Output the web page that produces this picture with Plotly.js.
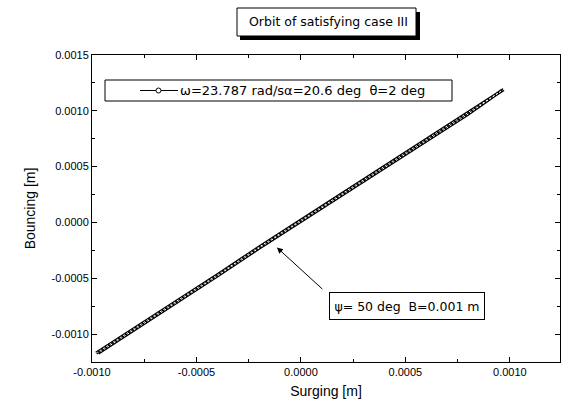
<!DOCTYPE html>
<html>
<head>
<meta charset="utf-8">
<script src="https://cdn.plot.ly/plotly-3.0.1.min.js"></script>
<style>html,body{margin:0;padding:0;background:#fff;}#chart{width:563px;height:411px;}</style>
</head>
<body>
<div id="chart"></div>
<script>
// Orbit points (surging x, bouncing y): outbound branch then return branch
const surging = [-0.00098,-0.00080,-0.00060,-0.00040,-0.00020,0.00000,0.00020,0.00040,0.00060,0.00080,0.00097,
                  0.00096,0.00080,0.00060,0.00040,0.00020,0.00000,-0.00020,-0.00040,-0.00060,-0.00080,-0.00097];
const bouncing = [-0.00117,-0.00095,-0.00071,-0.00047,-0.00022,0.00002,0.00026,0.00050,0.00074,0.00098,0.00119,
                   0.00118,0.00097,0.00073,0.00049,0.00025,0.00001,-0.00023,-0.00048,-0.00072,-0.00096,-0.00117];
const seriesName = "ω=23.787 rad/sα=20.6 deg  θ=2 deg";
const titleText = "Orbit of satisfying case III";
const noteText = "ψ= 50 deg  B=0.001 m";
const xTicks = [-0.0010,-0.0005,0.0000,0.0005,0.0010];
const yTicks = [-0.0010,-0.0005,0.0000,0.0005,0.0010,0.0015];

const W=563,H=411,L=92,R=3,T=55,B=49;
const pw=W-L-R, ph=H-T-B;
const px=p=>(p-L)/pw, py=p=>1-(p-T)/ph;
const fmt=v=>(v<0?"-":"")+Math.abs(v).toFixed(4);

const font="Liberation Sans, Arial, sans-serif";
const wide="DejaVu Sans, Liberation Sans, sans-serif";
const band={x:surging,y:bouncing,mode:"lines",name:seriesName,showlegend:false,
  line:{color:"#000",width:3.2}};
const holes={x:surging,y:bouncing,mode:"lines",showlegend:false,hoverinfo:"skip",
  line:{color:"#fff",width:1,dash:"2px,2px"}};

const axisCommon={showgrid:false,zeroline:false,showline:true,linecolor:"#000",linewidth:1,
  mirror:"allticks",ticks:"inside",ticklen:5,tickcolor:"#000",
  tickfont:{family:font,size:11,color:"#000"}};

const rect=(x0,x1,y0,y1,fill,lw)=>({type:"rect",xref:"paper",yref:"paper",x0:px(x0),x1:px(x1),y0:py(y1),y1:py(y0),
  fillcolor:fill,line:{color:"#000",width:lw},layer:"above"});

const layout={
  width:W,height:H,margin:{l:L,r:R,t:T,b:B},paper_bgcolor:"#fff",plot_bgcolor:"#fff",
  showlegend:false,
  xaxis:Object.assign({},axisCommon,{range:[-0.0010,0.00124],tickvals:xTicks,ticktext:xTicks.map(fmt),
    minor:{ticks:"inside",ticklen:3,tickcolor:"#000",dtick:0.00025,tick0:0},
    title:{text:"Surging [m]",font:{family:font,size:14,color:"#000"},standoff:8}}),
  yaxis:Object.assign({},axisCommon,{range:[-0.00125,0.0015],tickvals:yTicks,ticktext:yTicks.map(fmt),
    minor:{ticks:"inside",ticklen:3,tickcolor:"#000",dtick:0.00025,tick0:0},
    title:{text:"Bouncing [m]",font:{family:font,size:14,color:"#000"},standoff:12}}),
  shapes:[
    rect(240,420,12,40,"#000",0),
    rect(237,416,8,36,"#fff",1),
    rect(105,452,80,101,"#fff",1),
    {type:"line",xref:"paper",yref:"paper",x0:px(140),x1:px(178),y0:py(90.5),y1:py(90.5),line:{color:"#000",width:1},layer:"above"},
    {type:"circle",xref:"paper",yref:"paper",x0:px(156),x1:px(161),y0:py(88),y1:py(93),fillcolor:"#fff",line:{color:"#000",width:1},layer:"above"}
  ],
  annotations:[
    {xref:"paper",yref:"paper",x:px(328),y:py(22),text:titleText,showarrow:false,
      font:{family:wide,size:12.5,color:"#000"},xanchor:"center",yanchor:"middle"},
    {xref:"paper",yref:"paper",x:px(178),y:py(90.5),text:seriesName,showarrow:false,
      font:{family:wide,size:13,color:"#000"},xanchor:"left",yanchor:"middle"},
    {xref:"paper",yref:"paper",x:px(407),y:py(306),text:noteText,showarrow:false,
      font:{family:wide,size:12.5,color:"#000"},bgcolor:"#fff",bordercolor:"#000",borderwidth:1,
      width:152,height:24,xanchor:"center",yanchor:"middle"},
    {x:-0.000115,y:-0.000224,text:"",showarrow:true,ax:47,ay:43,arrowhead:2,arrowsize:1.2,arrowwidth:1,arrowcolor:"#000"}
  ]
};
Plotly.newPlot("chart",[band,holes],layout,{displayModeBar:false,staticPlot:true});
</script>
</body>
</html>
